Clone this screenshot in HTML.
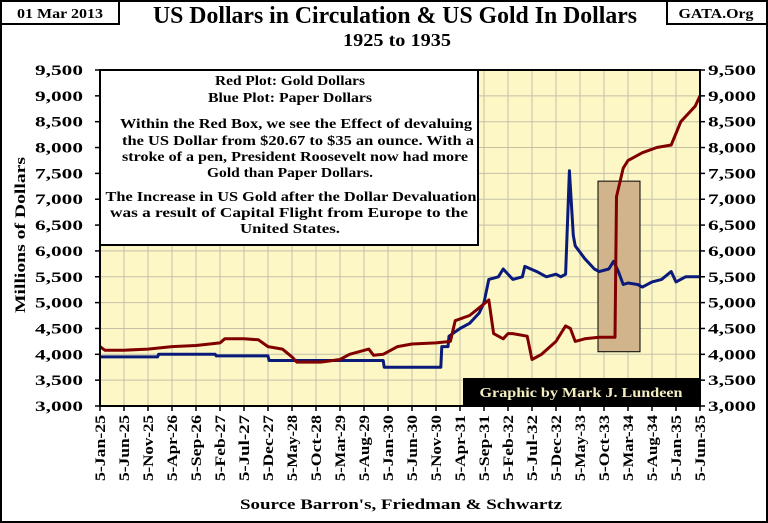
<!DOCTYPE html>
<html><head><meta charset="utf-8"><style>
body{margin:0;background:#fff;}
svg{display:block;font-family:"Liberation Serif",serif;font-weight:bold;}
</style></head><body>
<svg id="chart" width="768" height="523" viewBox="0 0 768 523">
<rect x="1" y="1" width="766" height="521" fill="#fff" stroke="#000" stroke-width="2"/>
<rect x="1" y="1" width="118" height="23" fill="#fff" stroke="#000" stroke-width="2"/>
<text x="60" y="18" font-size="14" text-anchor="middle" textLength="86" lengthAdjust="spacingAndGlyphs">01 Mar 2013</text>
<rect x="667" y="1" width="100" height="23" fill="#fff" stroke="#000" stroke-width="2"/>
<text x="716" y="18" font-size="14" text-anchor="middle" textLength="75" lengthAdjust="spacingAndGlyphs">GATA.Org</text>
<text x="395" y="23" font-size="24" text-anchor="middle" textLength="484" lengthAdjust="spacingAndGlyphs">US Dollars in Circulation &amp; US Gold In Dollars</text>
<text x="397" y="46" font-size="18" text-anchor="middle" textLength="108" lengthAdjust="spacingAndGlyphs">1925 to 1935</text>
<rect x="100" y="70" width="600" height="336" fill="#fdf7c6"/>
<g id="grid"></g>
<g id="axes"></g>
<g id="marks"></g>
<rect x="100" y="70" width="600" height="336" fill="none" stroke="#000" stroke-width="2"/>
<rect x="100" y="70" width="378" height="175" fill="#fff" stroke="#000" stroke-width="2"/>
<g font-size="14" text-anchor="middle">
<text x="290" y="85" textLength="150" lengthAdjust="spacingAndGlyphs">Red Plot: Gold Dollars</text>
<text x="290" y="102" textLength="164" lengthAdjust="spacingAndGlyphs">Blue Plot: Paper Dollars</text>
<text x="296" y="128" textLength="352" lengthAdjust="spacingAndGlyphs">Within the Red Box, we see the Effect of devaluing</text>
<text x="298" y="145" textLength="352" lengthAdjust="spacingAndGlyphs">the US Dollar from $20.67 to $35 an ounce.   With a</text>
<text x="295" y="161" textLength="346" lengthAdjust="spacingAndGlyphs">stroke of a pen, President Roosevelt now had more</text>
<text x="290" y="177" textLength="166" lengthAdjust="spacingAndGlyphs">Gold than Paper Dollars.</text>
<text x="291" y="201" textLength="371" lengthAdjust="spacingAndGlyphs">The Increase in US Gold after the Dollar Devaluation</text>
<text x="289" y="217" textLength="358" lengthAdjust="spacingAndGlyphs">was a result of Capital Flight from Europe to the</text>
<text x="290" y="233" textLength="100" lengthAdjust="spacingAndGlyphs">United States.</text>
</g>
<rect x="463" y="378" width="237" height="27" fill="#000"/>
<text x="581" y="397" font-size="14" fill="#f3edc0" text-anchor="middle" textLength="203" lengthAdjust="spacingAndGlyphs">Graphic by Mark J. Lundeen</text>
<text transform="translate(25,235) rotate(-90)" font-size="15" text-anchor="middle" textLength="156" lengthAdjust="spacingAndGlyphs">Millions of Dollars</text>
<text x="401" y="509" font-size="15" text-anchor="middle" textLength="322" lengthAdjust="spacingAndGlyphs">Source Barron's, Friedman &amp; Schwartz</text>
</svg>
<script>
const yTicks=[3000,3500,4000,4500,5000,5500,6000,6500,7000,7500,8000,8500,9000,9500];
const xLabels=["5-Jan-25","5-Jun-25","5-Nov-25","5-Apr-26","5-Sep-26","5-Feb-27","5-Jul-27","5-Dec-27","5-May-28","5-Oct-28","5-Mar-29","5-Aug-29","5-Jan-30","5-Jun-30","5-Nov-30","5-Apr-31","5-Sep-31","5-Feb-32","5-Jul-32","5-Dec-32","5-May-33","5-Oct-33","5-Mar-34","5-Aug-34","5-Jan-35","5-Jun-35"];
const goldMonths=[0,1,5,10,15,20,25,26,30,33,35,38,40,41,46,50,52,54,56,57,59,62,65,70,73,74,77,79,81,82,84,85,86,89,90,92,95,96,97,98,99,101,104,107.3,107.6,109,110,111,113,116,119,121,122,124,125];
const goldValues=[4150,4080,4080,4100,4150,4170,4220,4300,4300,4280,4150,4100,3950,3850,3850,3900,4000,4050,4100,3980,4000,4150,4200,4220,4250,4650,4750,4900,5050,4400,4300,4400,4400,4350,3900,4000,4250,4400,4550,4500,4250,4300,4330,4330,7050,7600,7750,7800,7900,8000,8050,8500,8600,8800,9000];
const paperMonths=[0,12,12.2,24,24.2,35,35.2,59,59.2,71,71.2,72.5,72.7,75,77,79,80,81,83,84,86,88,88.5,91,93,95,96,97,97.8,98.6,99,101,103,104,106,107,108,109,110,112,113,115,117,119,120,122,125];
const paperValues=[3950,3950,4000,4000,3970,3970,3880,3880,3750,3750,4150,4150,4350,4500,4600,4800,5000,5450,5500,5650,5450,5500,5700,5600,5500,5550,5500,5550,7550,6300,6100,5850,5650,5600,5650,5800,5600,5350,5380,5350,5300,5400,5450,5600,5400,5500,5500];
const boxMonths=[103.75,112.5];
const boxValues=[4050,7350];
const NS="http://www.w3.org/2000/svg";
const X0=100,X1=700,Y0=406,Y1=70,MMAX=125;
function xs(m){return X0+m*(X1-X0)/MMAX;}
function ys(v){return Y0-(v-3000)*(Y0-Y1)/6500;}
function el(t,a,p){const e=document.createElementNS(NS,t);for(const k in a)e.setAttribute(k,a[k]);p.appendChild(e);return e;}
const grid=document.getElementById('grid'),axes=document.getElementById('axes'),marks=document.getElementById('marks');
yTicks.forEach(v=>{
 const y=ys(v);
 const g=el('line',{x1:X0,x2:X1,y1:y,y2:y,stroke:'#c4c0a8','stroke-width':1},grid);
 
 
 const lab=v.toLocaleString('en-US');
 const t1=el('text',{x:X0-17,y:y+5,'font-size':15,'text-anchor':'end',textLength:48,lengthAdjust:'spacingAndGlyphs'},axes);t1.textContent=lab;
 
 
 const t2=el('text',{x:X1+8,y:y+5,'font-size':15,'text-anchor':'start',textLength:48,lengthAdjust:'spacingAndGlyphs'},axes);t2.textContent=lab;
 
 
 el('line',{x1:X1,x2:X1+5,y1:y,y2:y,stroke:'#000','stroke-width':1.5},axes);
 el('line',{x1:X0-5,x2:X0,y1:y,y2:y,stroke:'#000','stroke-width':1.5},axes);
});
xLabels.forEach((lab,i)=>{
 const x=X0+i*(X1-X0)/(xLabels.length-1);
 const g=el('line',{x1:x,x2:x,y1:Y1,y2:Y0,stroke:'#c4c0a8','stroke-width':1},grid);
 
 
 el('line',{x1:x,x2:x,y1:Y0,y2:Y0+5,stroke:'#000','stroke-width':1.5},axes);
 const t=el('text',{transform:`translate(${x+5},${Y0+9}) rotate(-90)`,'font-size':15,'text-anchor':'end',textLength:66,lengthAdjust:'spacingAndGlyphs'},axes);t.textContent=lab;
 
 
});
const bx=el('rect',{x:xs(boxMonths[0]),y:ys(boxValues[1]),width:xs(boxMonths[1])-xs(boxMonths[0]),height:ys(boxValues[0])-ys(boxValues[1]),fill:'#d2b48c',stroke:'#000','stroke-width':1},marks);


function line(ms,vs,color,name){
 const d=ms.map((m,i)=>(i?'L':'M')+xs(m).toFixed(1)+','+ys(vs[i]).toFixed(1)).join('');
 const p=el('path',{d:d,fill:'none',stroke:color,'stroke-width':3,'stroke-linejoin':'round'},marks);
 
 
}
line(paperMonths,paperValues,'#0a1a7a','paper-dollars-line');
line(goldMonths,goldValues,'#800000','gold-dollars-line');
</script>
</body></html>
